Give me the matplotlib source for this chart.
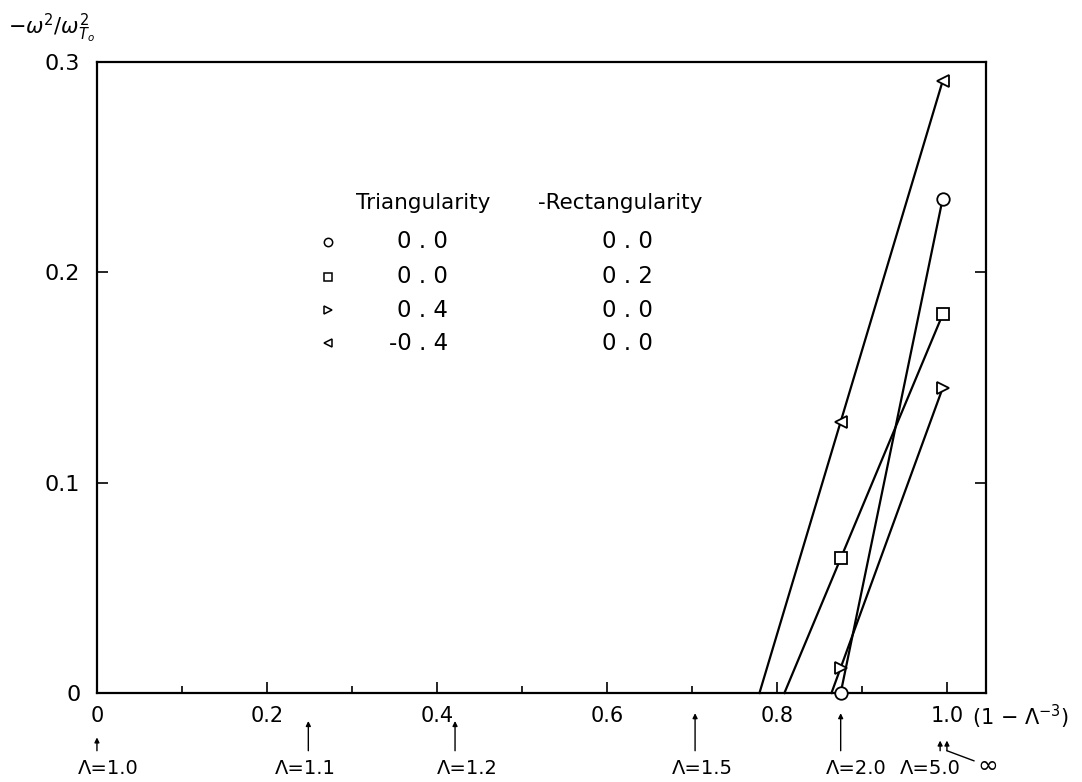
import numpy as np
import matplotlib
matplotlib.use("Agg")
import matplotlib.pyplot as plt
from matplotlib.ticker import MultipleLocator

# values: x = (1 - Lambda^-3), y = -omega^2/omega_To^2
x_pts = [0.875, 0.995]
circle_y = [0.0, 0.235]
square_y = [0.064, 0.180]
tri_right_y = [0.012, 0.145]
tri_left_y = [0.129, 0.291]

series_y = [circle_y, square_y, tri_right_y, tri_left_y]
series_markers = ["o", "s", ">", "<"]
triangularity = ["0 . 0", "0 . 0", "0 . 4", "-0 . 4"]
rectangularity = ["0 . 0", "0 . 2", "0 . 0", "0 . 0"]

# aspect-ratio markers under the x axis
lambda_vals = [1.0, 1.1, 1.2, 1.5, 2.0, 5.0, np.inf]
lambda_labels = ["Λ=1.0", "Λ=1.1", "Λ=1.2", "Λ=1.5", "Λ=2.0", "Λ=5.0", "∞"]

xticks = [0, 0.2, 0.4, 0.6, 0.8, 1.0]
xticklabels = ["0", "0.2", "0.4", "0.6", "0.8", "1.0"]
yticks = [0, 0.1, 0.2, 0.3]
yticklabels = ["0", "0.1", "0.2", "0.3"]

plt.rcParams['font.family'] = ['DejaVu Sans']

fig = plt.figure(figsize=(10.82, 7.82), dpi=100)
ax = fig.add_axes([0.0896, 0.1138, 0.8217, 0.8069])

for ys, m in zip(series_y, series_markers):
    x1, x2 = x_pts
    y1, y2 = ys
    # line continues down to the axis
    x0 = x1 - y1 * (x2 - x1) / (y2 - y1)
    ax.plot([x0, x1, x2], [0, y1, y2], color="black", lw=1.6,
            marker=m, markevery=[1, 2], ms=9, mfc="white", mec="black",
            mew=1.3, clip_on=False, zorder=3)

ax.set_xlim(0, 1.046)
ax.set_ylim(0, 0.3)
ax.set_xticks(xticks)
ax.set_xticklabels(xticklabels)
ax.set_yticks(yticks)
ax.set_yticklabels(yticklabels)
ax.xaxis.set_minor_locator(MultipleLocator(0.1))
ax.tick_params(axis="x", which="major", direction="in", length=8, width=1.2,
               labelsize=15, pad=9)
ax.tick_params(axis="x", which="minor", direction="in", length=5, width=1.2)
ax.tick_params(axis="y", which="major", direction="in", length=8, width=1.2,
               labelsize=16, pad=12, right=True)
for s in ax.spines.values():
    s.set_linewidth(1.6)

# legend block written as a table
tab_y = [0.2145, 0.198, 0.182, 0.1664]
ax.text(0.305, 0.233, "Triangularity", fontsize=15.5, va="center")
ax.text(0.519, 0.233, "-Rectangularity", fontsize=15.5, va="center")
for yy, m, t, r in zip(tab_y, series_markers, triangularity, rectangularity):
    ax.plot([0.272], [yy], marker=m, ms=6, mfc="white", mec="black", mew=1.1,
            ls="none")
    ax.text(0.413, yy, t, fontsize=16.5, ha="right", va="center")
    ax.text(0.654, yy, r, fontsize=16.5, ha="right", va="center")

# y label and x label
fig.text(0.007, 0.964, r"$-\omega^2/\omega^2_{T_o}$", fontsize=15, va="center")
fig.text(0.898, 0.083, "(1 − Λ$^{-3}$)", fontsize=15, va="center")

# Lambda arrows below axis
arrow_top = [0.057, 0.078, 0.078, 0.088, 0.088, 0.053, 0.053]
label_dx = [0.013, -0.003, 0.014, 0.009, 0.018, -0.012, 0.048]
for lam, lab, top, dx in zip(lambda_vals, lambda_labels, arrow_top, label_dx):
    xv = 1.0 - lam ** -3.0
    ax.annotate("", xy=(xv, top), xytext=(xv, 0.040),
                xycoords=("data", "figure fraction"),
                textcoords=("data", "figure fraction"),
                arrowprops=dict(arrowstyle="-|>", lw=1.0, color="black",
                                mutation_scale=7, shrinkA=0, shrinkB=0),
                annotation_clip=False)
    if lab == "∞":
        ax.annotate("", xy=(xv, 0.040), xytext=(xv + 0.032, 0.027),
                    xycoords=("data", "figure fraction"),
                    textcoords=("data", "figure fraction"),
                    arrowprops=dict(arrowstyle="-", lw=1.0, color="black",
                                    shrinkA=0, shrinkB=0),
                    annotation_clip=False)
        ax.annotate(lab, xy=(xv + dx, 0.020), xycoords=("data", "figure fraction"),
                    fontsize=18, ha="center", va="center", annotation_clip=False)
    else:
        ax.annotate(lab, xy=(xv + dx, 0.017), xycoords=("data", "figure fraction"),
                    fontsize=14, ha="center", va="center", annotation_clip=False)

fig.savefig("out.png", dpi=100)
